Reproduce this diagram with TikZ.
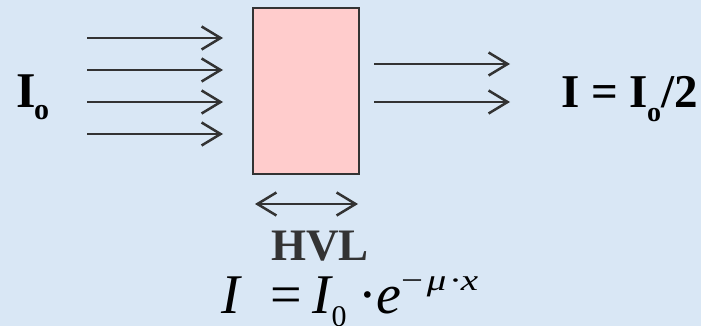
\documentclass[tikz,border=0pt]{standalone}
\usepackage{fontspec}
\setmainfont{Liberation Serif}
\usetikzlibrary{arrows.meta, positioning}
\definecolor{bgblue}{RGB}{217,231,245}
\definecolor{slabpink}{RGB}{255,204,204}
\definecolor{ink}{RGB}{51,51,51}
\tikzset{
  barb/.tip={Straight Barb[length=19pt, width=23pt, line width=2.5pt]}, % open arrow head
  ray/.style={draw=ink, line width=2.5pt, -barb}, % incoming and outgoing beams
  label text/.style={inner sep=0pt, anchor=base west, font=\fontsize{50}{54}\selectfont\bfseries}, % big bold labels
}

\begin{document}
\begin{tikzpicture}[x=1pt, y=-1pt, slab/.style = {draw=ink, line width=2pt, fill=slabpink, minimum width=106pt, minimum height=166pt, inner sep=0pt}]
    \fill[bgblue] (0,0) rectangle (701,326);
    \useasboundingbox (0,0) rectangle (701,326);

    \node[slab] (absorber) at (306,91) {};

    % incoming beam
    \coordinate (in1) at (87,38);
    \coordinate (in2) at (87,70);
    \coordinate (in3) at (87,102);
    \coordinate (in4) at (87,134);
    \coordinate (hit1) at (223,38);
    \coordinate (hit2) at (223,70);
    \coordinate (hit3) at (223,102);
    \coordinate (hit4) at (223,134);
    % transmitted beam
    \coordinate (out1) at (374,64);
    \coordinate (out2) at (374,102);
    \coordinate (end1) at (510,64);
    \coordinate (end2) at (510,102);

    \draw[ray] (in1) -- (hit1);
    \draw[ray] (in2) -- (hit2);
    \draw[ray] (in3) -- (hit3);
    \draw[ray] (in4) -- (hit4);
    \draw[ray] (out1) -- (end1);
    \draw[ray] (out2) -- (end2);

    \node[label text] (incident) at (16,108) {I\hspace{-1.5pt}\raisebox{-12pt}{\fontsize{30}{30}\selectfont o}};
    \node[label text, font=\fontsize{47}{50}\selectfont\bfseries] (halved) at (561,108) {I = I\hspace{-1pt}\raisebox{-14pt}{\fontsize{28}{28}\selectfont o}/2};

    % thickness marker
    \coordinate (hvlL) at (255,204);
    \coordinate (hvlR) at (358,204);
    \draw[draw=ink, line width=2.5pt, barb-barb] (hvlL) -- (hvlR);
    \node[label text, text=ink, font=\fontsize{45}{48}\selectfont\bfseries] (hvl) at (271,260) {HVL};

    \node[inner sep=0pt, anchor=base west, font=\fontsize{56}{60}\selectfont] (law) at (221,313)
      {\itshape I\hspace{30.5pt}\upshape=\hspace{11pt}\itshape I\raisebox{-13pt}{\upshape\fontsize{30}{30}\selectfont 0}\hspace{12pt}\upshape·\hspace{-1pt}\itshape e\raisebox{23pt}{\scalebox{1.3}[1]{\fontsize{30}{30}\selectfont\upshape−\hspace{3pt}\itshape μ\hspace{2pt}\upshape·\hspace{-1pt}\itshape x}}};
  \end{tikzpicture}
\end{document}
